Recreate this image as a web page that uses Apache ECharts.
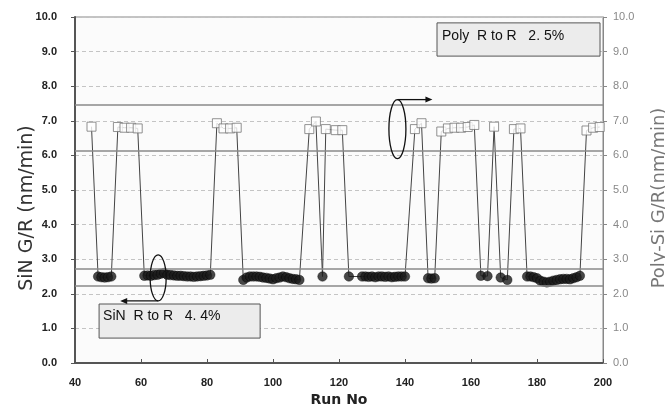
<!DOCTYPE html>
<html><head><meta charset="utf-8">
<script src="https://cdn.jsdelivr.net/npm/echarts@6/dist/echarts.min.js"></script>
<style>html,body{margin:0;padding:0;background:#fff}#c{width:665px;height:407px}</style>
</head><body><div id="c"></div>
<script>
// Run numbers and growth rates (one measurement sequence)
const runs = [45,
  47,48,49,50,51,
  53,55,57,59,
  61,62,63,64,65,66,67,68,69,70,71,72,73,74,75,76,77,78,79,80,81,
  83,85,87,89,
  91,92,93,94,95,96,97,98,99,100,101,102,103,104,105,106,107,108,
  111,113,
  115,
  116,119,121,
  123,
  127,128,129,130,131,132,133,134,135,136,137,138,139,140,
  143,145,
  147,148,149,
  151,153,155,157,159,161,
  163,165,
  167,
  169,171,
  173,175,
  177,178,179,180,181,182,183,184,185,186,187,188,189,190,191,192,193,
  195,197,199];
const rates = [6.83,
  2.50,2.48,2.47,2.48,2.50,
  6.82,6.80,6.80,6.78,
  2.52,2.53,2.52,2.54,2.55,2.58,2.60,2.55,2.54,2.53,2.52,2.52,2.51,2.50,2.50,2.49,2.50,2.51,2.52,2.53,2.55,
  6.93,6.78,6.78,6.80,
  2.40,2.47,2.50,2.50,2.50,2.49,2.47,2.46,2.44,2.42,2.45,2.47,2.50,2.48,2.45,2.43,2.42,2.40,
  6.76,6.98,
  2.50,
  6.76,6.73,6.73,
  2.50,
  2.50,2.50,2.49,2.50,2.48,2.50,2.50,2.49,2.50,2.48,2.49,2.50,2.50,2.50,
  6.76,6.93,
  2.45,2.44,2.45,
  6.69,6.78,6.80,6.80,6.82,6.88,
  2.52,2.51,
  6.83,
  2.47,2.40,
  6.76,6.78,
  2.50,2.50,2.48,2.45,2.38,2.35,2.33,2.35,2.38,2.40,2.42,2.43,2.43,2.42,2.45,2.48,2.52,
  6.72,6.80,6.82];
const polyLimits = [7.47, 6.12];
const sinLimits = [2.73, 2.24];
const yTicks = [0,1,2,3,4,5,6,7,8,9,10];
const xTicks = [40,60,80,100,120,140,160,180,200];
const polyNote = 'Poly  R to R   2. 5%';
const sinNote = 'SiN  R to R   4. 4%';

const pts = runs.map((r,i)=>[r, rates[i]]);
const polyPts = pts.filter(p=>p[1] > 4);
const sinPts = pts.filter(p=>p[1] <= 4);

const chart = echarts.init(document.getElementById('c'));
const lblFont = {fontFamily:'Liberation Sans', fontSize:11, fontWeight:'bold'};
chart.setOption({
  backgroundColor:'#ffffff',
  animation:false,
  grid:{left:75, right:62, top:17, bottom:44, outerBoundsMode:'none', containLabel:false,
    show:true, backgroundColor:'#fbfbfb', borderColor:'#888', borderWidth:1},
  xAxis:{type:'value', min:xTicks[0], max:xTicks[xTicks.length-1], interval:20,
    name:'Run No', nameLocation:'middle', nameGap:29,
    nameTextStyle:{fontFamily:'DejaVu Sans', fontSize:14, fontWeight:'bold', color:'#222'},
    axisLine:{lineStyle:{color:'#555', width:2}},
    axisTick:{inside:true, length:4, lineStyle:{color:'#555'}},
    axisLabel:Object.assign({color:'#222', margin:14}, lblFont),
    splitLine:{show:false}},
  yAxis:[
    {type:'value', min:yTicks[0], max:yTicks[yTicks.length-1], interval:1, position:'left',
     name:'SiN G/R (nm/min)', nameLocation:'middle', nameGap:38, nameMoveOverlap:false,
     nameTextStyle:{fontFamily:'DejaVu Sans', fontSize:19, color:'#333', padding:[0,36,0,0]},
     axisLine:{show:true, lineStyle:{color:'#555', width:2}},
     axisTick:{show:true, length:4, lineStyle:{color:'#555'}},
     axisLabel:Object.assign({color:'#222', margin:18, formatter:v=>v.toFixed(1)}, lblFont),
     splitLine:{show:true, lineStyle:{color:'#c4c4c4', type:[4,3], width:1}}},
    {type:'value', min:yTicks[0], max:yTicks[yTicks.length-1], interval:1, position:'right',
     name:'Poly-Si G/R(nm/min)', nameLocation:'middle', nameGap:47, nameMoveOverlap:false,
     nameTextStyle:{fontFamily:'DejaVu Sans', fontSize:18, color:'#777', padding:[0,16,0,0]},
     axisLine:{show:true, lineStyle:{color:'#888', width:1}},
     axisTick:{show:true, length:4, lineStyle:{color:'#888'}},
     axisLabel:{color:'#888', margin:10, fontFamily:'Liberation Sans', fontSize:11, formatter:v=>v.toFixed(1)},
     splitLine:{show:false}}
  ],
  series:[
    {type:'line', data:pts, symbol:'none', lineStyle:{color:'#444', width:1}, z:2,
     markLine:{silent:true, symbol:'none', label:{show:false},
       lineStyle:{color:'#8a8a8a', type:'solid', width:1.5},
       data:polyLimits.concat(sinLimits).map(v=>({yAxis:v}))}},
    {type:'scatter', data:polyPts, symbol:'rect', symbolSize:9,
     itemStyle:{color:'#ffffff', borderColor:'#777', borderWidth:1}, z:3},
    {type:'scatter', data:sinPts, symbol:'circle', symbolSize:9.5,
     itemStyle:{color:'#1a1a1a', borderColor:'#000', borderWidth:0.5}, z:4}
  ]
});

function P(x,y){return chart.convertToPixel({gridIndex:0},[x,y]);}
const b1a = P(149.7, 9.83), b1b = P(199.1, 8.87);
const b2a = P(47.3, 1.705), b2b = P(96.1, 0.72);
const e1 = P(65.2, 2.46), e2 = P(137.7, 6.76);
const ink = '#111';
const noteFont = '14px "Liberation Sans"';
chart.setOption({graphic:[
  {type:'rect', shape:{x:b1a[0], y:b1a[1], width:b1b[0]-b1a[0], height:b1b[1]-b1a[1]},
   style:{fill:'#ececec', stroke:'#555', lineWidth:1}, z:10},
  {type:'text', x:b1a[0]+5, y:b1a[1]+13, style:{text:polyNote, fill:'#111', font:noteFont, verticalAlign:'middle'}, z:11},
  {type:'rect', shape:{x:b2a[0], y:b2a[1], width:b2b[0]-b2a[0], height:b2b[1]-b2a[1]},
   style:{fill:'#ececec', stroke:'#555', lineWidth:1}, z:10},
  {type:'text', x:b2a[0]+4, y:b2a[1]+12, style:{text:sinNote, fill:'#111', font:noteFont, verticalAlign:'middle'}, z:11},
  {type:'ellipse', shape:{cx:e1[0], cy:e1[1], rx:8, ry:23}, style:{fill:'none', stroke:ink, lineWidth:1.3}, z:12},
  {type:'line', shape:{x1:e1[0], y1:e1[1]+23, x2:e1[0]-34, y2:e1[1]+23}, style:{stroke:ink, lineWidth:1.3}, z:12},
  {type:'polygon', shape:{points:[[e1[0]-38,e1[1]+23],[e1[0]-31,e1[1]+20],[e1[0]-31,e1[1]+26]]}, style:{fill:ink}, z:12},
  {type:'ellipse', shape:{cx:e2[0], cy:e2[1], rx:8.5, ry:29.5}, style:{fill:'none', stroke:ink, lineWidth:1.3}, z:12},
  {type:'line', shape:{x1:e2[0], y1:e2[1]-29.5, x2:e2[0]+30, y2:e2[1]-29.5}, style:{stroke:ink, lineWidth:1.3}, z:12},
  {type:'polygon', shape:{points:[[e2[0]+35,e2[1]-29.5],[e2[0]+28,e2[1]-32.5],[e2[0]+28,e2[1]-26.5]]}, style:{fill:ink}, z:12}
]});
</script></body></html>
